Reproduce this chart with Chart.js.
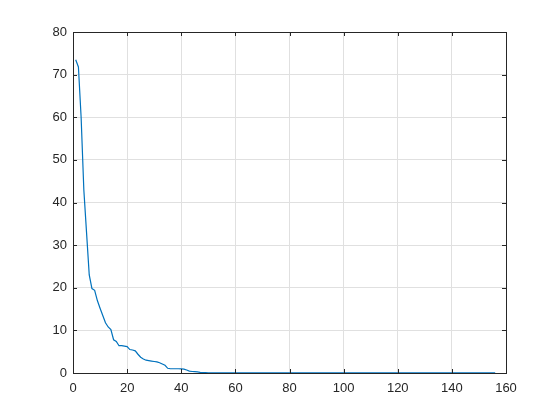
<!DOCTYPE html>
<html>
<head>
<meta charset="utf-8">
<script src="https://cdn.jsdelivr.net/npm/chart.js@4"></script>
<style>
  body { margin: 0; background: #fff; }
  canvas { display: block; }
</style>
</head>
<body>
<canvas id="grafica" width="560" height="420"></canvas>
<script>
// valores
const xTicks = [0, 20, 40, 60, 80, 100, 120, 140, 160];
const yTicks = [0, 10, 20, 30, 40, 50, 60, 70, 80];

const headValues = [
  73.5, 71.8, 60, 43, 33, 23, 19.8, 19.4, 17, 15.2,
  13.5, 11.8, 10.8, 10.2, 7.8, 7.4, 6.4, 6.4, 6.3, 6.2,
  5.5, 5.4, 5.2, 4.4, 3.7, 3.3, 3.0, 2.9, 2.8, 2.7,
  2.6, 2.4, 2.1, 1.8, 1.1, 1.0, 1.0, 1.0, 1.0, 0.95,
  0.9, 0.7, 0.45, 0.35, 0.3, 0.25, 0.15, 0.1, 0.08, 0.06
];
const tailValues = [
  0.05, 0.05, 0.04, 0.04, 0.04, 0.03, 0.03, 0.03, 0.03, 0.03,
  0.02, 0.02, 0.02, 0.02, 0.02, 0.02, 0.02, 0.02, 0.02, 0.02,
  0.02, 0.02, 0.02, 0.02, 0.01, 0.01, 0.01, 0.01, 0.01, 0.01,
  0.01, 0.01, 0.01, 0.01, 0.01, 0.01, 0.01, 0.01, 0.01, 0.01,
  0.01, 0.01, 0.01, 0.01, 0.01, 0.01, 0.01, 0.01, 0.01, 0.01,
  0.01, 0.01, 0.01, 0.01, 0.01, 0.01, 0.01, 0.01, 0.01, 0.01,
  0.01, 0.01, 0.01, 0.01, 0.01, 0.01, 0.01, 0.01, 0.01, 0.01,
  0.01, 0.01, 0.01, 0.01, 0.01, 0.01, 0.01, 0.01, 0.01, 0.01,
  0.01, 0.01, 0.01, 0.01, 0.01, 0.01, 0.01, 0.01, 0.01, 0.01,
  0.01, 0.01, 0.01, 0.01, 0.01, 0.01, 0.01, 0.01, 0.01, 0.01,
  0.01, 0.01, 0.01, 0.01, 0.01, 0.01
];
const yValues = headValues.concat(tailValues);
const xValues = yValues.map((v, i) => i + 1);

// caja alrededor del area de la grafica
const boxPlugin = {
  id: 'box',
  afterDraw(chart) {
    const a = chart.chartArea;
    const c = chart.ctx;
    c.save();
    c.strokeStyle = '#262626';
    c.lineWidth = 1;
    c.strokeRect(Math.round(a.left) + 0.5, Math.round(a.top) + 0.5,
      Math.round(a.right - a.left), Math.round(a.bottom - a.top));
    // marcas hacia dentro
    const xs = chart.scales.x, ys = chart.scales.y;
    c.beginPath();
    xTicks.forEach(t => {
      const p = Math.round(xs.getPixelForValue(t)) + 0.5;
      c.moveTo(p, a.bottom); c.lineTo(p, a.bottom - 4);
      c.moveTo(p, a.top); c.lineTo(p, a.top + 4);
    });
    yTicks.forEach(t => {
      const p = Math.round(ys.getPixelForValue(t)) + 0.5;
      c.moveTo(a.left, p); c.lineTo(a.left + 4, p);
      c.moveTo(a.right, p); c.lineTo(a.right - 4, p);
    });
    c.stroke();
    c.restore();
  }
};

const ctx = document.getElementById('grafica');
new Chart(ctx, {
  type: 'line',
  data: {
    datasets: [{
      data: xValues.map((x, i) => ({ x: x, y: yValues[i] })),
      borderColor: '#0072BD',
      borderWidth: 1.2,
      pointRadius: 0,
      tension: 0,
      fill: false
    }]
  },
  options: {
    responsive: false,
    animation: false,
    layout: { padding: { top: 32, right: 54, left: 0, bottom: 0 } },
    plugins: { legend: { display: false }, tooltip: { enabled: false } },
    scales: {
      x: {
        type: 'linear',
        min: 0, max: 160,
        afterBuildTicks: s => { s.ticks = xTicks.map(v => ({ value: v })); },
        afterFit: s => { s.height = 47; },
        grid: { color: '#e0e0e0', drawTicks: false },
        border: { display: false },
        ticks: { color: '#262626', padding: 8, font: { family: 'Liberation Sans', size: 13 } }
      },
      y: {
        min: 0, max: 80,
        afterBuildTicks: s => { s.ticks = yTicks.map(v => ({ value: v })); },
        afterFit: s => { s.width = 73; },
        grid: { color: '#e0e0e0', drawTicks: false },
        border: { display: false },
        ticks: { color: '#262626', padding: 6, font: { family: 'Liberation Sans', size: 13 } }
      }
    }
  },
  plugins: [boxPlugin]
});
</script>
</body>
</html>
